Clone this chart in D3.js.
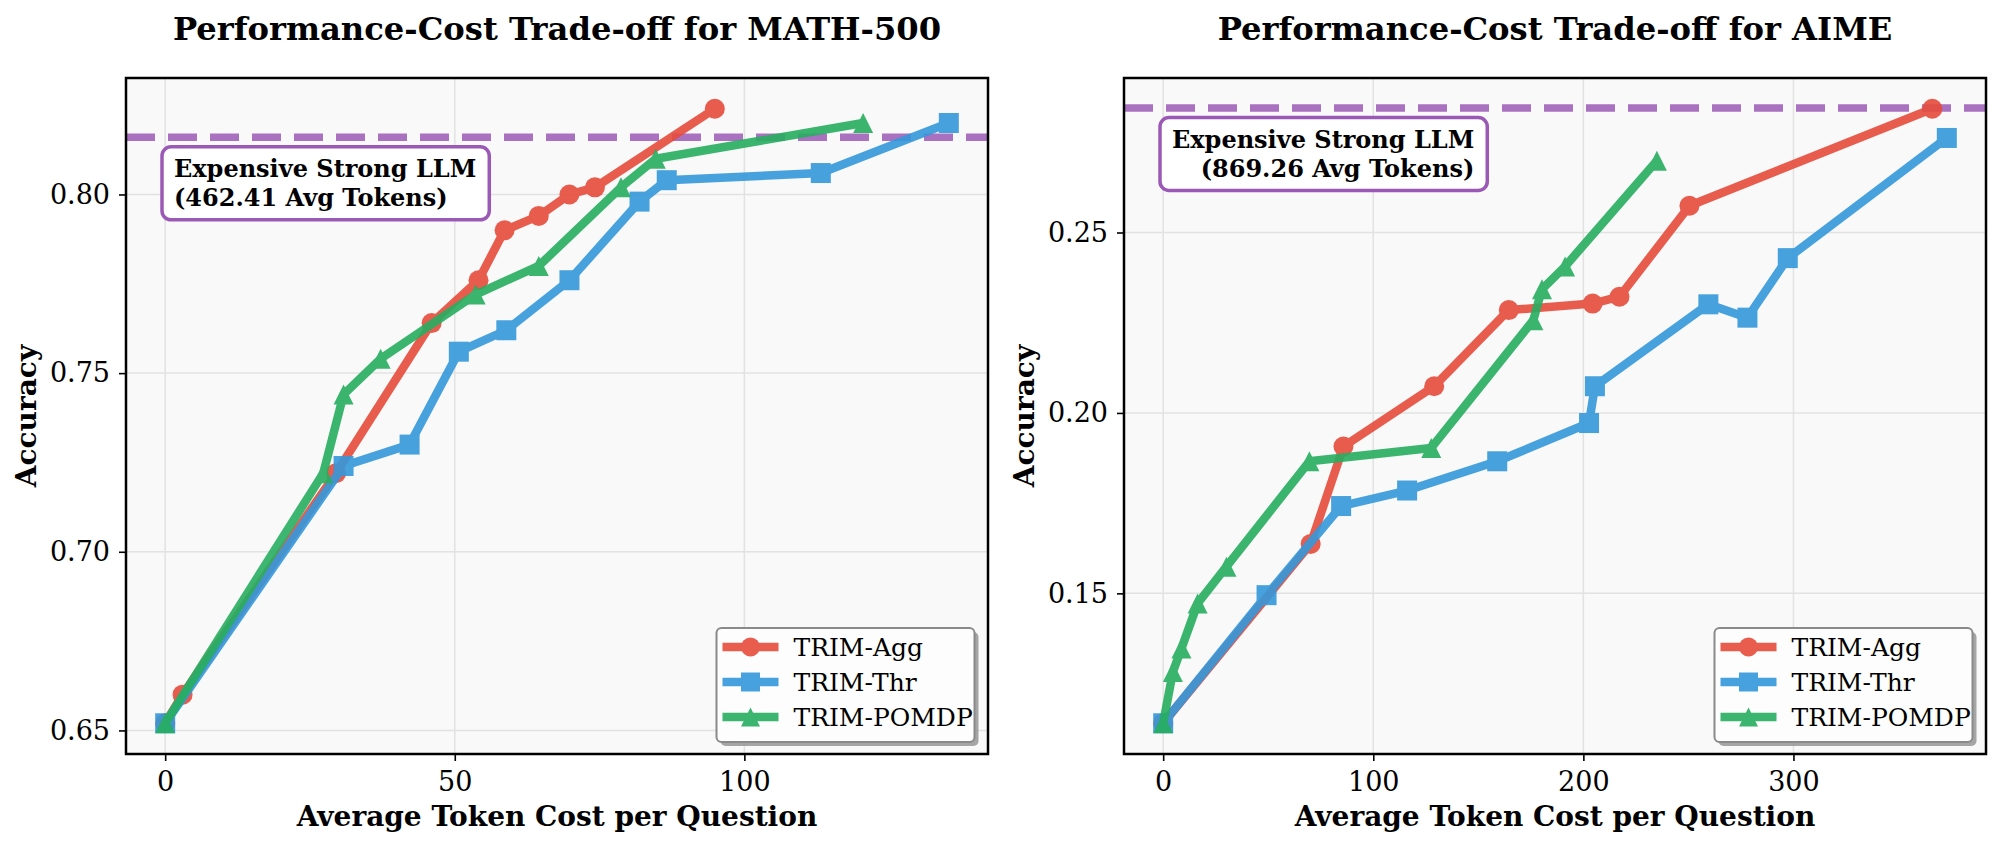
<!DOCTYPE html>
<html>
<head>
<meta charset="utf-8">
<script src="https://cdn.jsdelivr.net/npm/d3@7"></script>
<style>
  body { margin: 0; background: #fff; }
  text { font-family: "DejaVu Serif", serif; }
</style>
</head>
<body>
<div id="chart"></div>
<script>
// MATH-500 panel values
var mathAggX = [0, 3, 29.5, 46.0, 54.1, 58.6, 64.5, 69.8, 74.2, 94.9];
var mathAggY = [0.652, 0.660, 0.722, 0.764, 0.776, 0.790, 0.794, 0.800, 0.802, 0.824];
var mathThrX = [0, 30.8, 42.2, 50.7, 58.9, 69.8, 81.9, 86.6, 113.2, 135.3];
var mathThrY = [0.652, 0.724, 0.730, 0.756, 0.762, 0.776, 0.798, 0.804, 0.806, 0.820];
var mathPomdpX = [0, 27.3, 30.8, 37.2, 53.6, 64.5, 78.7, 84.7, 120.5];
var mathPomdpY = [0.652, 0.722, 0.744, 0.754, 0.772, 0.780, 0.802, 0.810, 0.820];
var mathStrongAcc = 0.816;
var mathStrongTokens = "462.41";
var mathXTicks = [0, 50, 100];
var mathYTicks = [0.65, 0.70, 0.75, 0.80];

// AIME panel values
var aimeAggX = [0, 70.2, 85.8, 129.0, 164.5, 204.4, 217.2, 250.5, 366.1];
var aimeAggY = [0.114, 0.1637, 0.1907, 0.2074, 0.2285, 0.2303, 0.2322, 0.2574, 0.2843];
var aimeThrX = [0, 49.2, 84.7, 116.1, 159.0, 202.7, 205.5, 259.5, 278.1, 297.3, 373.0];
var aimeThrY = [0.114, 0.1495, 0.1742, 0.1785, 0.1866, 0.1972, 0.2074, 0.2301, 0.2264, 0.2429, 0.2762];
var aimePomdpX = [0, 4.6, 8.7, 16.4, 30.1, 69.6, 127.6, 176.2, 180.3, 191.3, 235.0];
var aimePomdpY = [0.114, 0.1282, 0.1347, 0.1472, 0.1574, 0.1866, 0.1903, 0.2257, 0.2343, 0.2406, 0.2699];
var aimeStrongAcc = 0.2845;
var aimeStrongTokens = "869.26";
var aimeXTicks = [0, 100, 200, 300];
var aimeYTicks = [0.15, 0.20, 0.25];

var seriesNames = ["TRIM-Agg", "TRIM-Thr", "TRIM-POMDP"];
var seriesColors = ["#e74c3c", "#3498db", "#27ae60"];
var seriesMarkers = ["circle", "square", "triangle"];
var strongColor = "#9b59b6";

var svgWidth = 2000;
var svgHeight = 845;

var svg = d3.select("#chart")
  .append("svg")
  .attr("width", svgWidth)
  .attr("height", svgHeight);

var plotTop = 78;
var plotBottom = 754;
var plotW = 862;

function markerPath(type, s) {
  if (type === "circle") {
    return "M" + (-s) + ",0A" + s + "," + s + " 0 1,0 " + s + ",0A" + s + "," + s + " 0 1,0 " + (-s) + ",0Z";
  } else if (type === "square") {
    return "M" + (-s) + "," + (-s) + "H" + s + "V" + s + "H" + (-s) + "Z";
  }
  return "M0," + (-s) + "L" + s + "," + s + "L" + (-s) + "," + s + "Z";
}

function padded(vals) {
  var lo = d3.min(vals), hi = d3.max(vals);
  var p = (hi - lo) * 0.05;
  return [lo - p, hi + p];
}

function drawPanel(left, cfg) {
  var g = svg.append("g");
  var right = left + plotW;

  var allX = cfg.xs[0].concat(cfg.xs[1], cfg.xs[2]);
  var allY = cfg.ys[0].concat(cfg.ys[1], cfg.ys[2]);

  var x = d3.scaleLinear().domain(padded(allX)).range([left, right]);
  var y = d3.scaleLinear().domain(padded(allY)).range([plotBottom, plotTop]);

  // plot background
  g.append("rect")
    .attr("x", left).attr("y", plotTop)
    .attr("width", plotW).attr("height", plotBottom - plotTop)
    .attr("fill", "#f9f9f9");

  // grid
  g.selectAll(".vgrid").data(cfg.xTicks).enter().append("line")
    .attr("x1", d => x(d)).attr("x2", d => x(d))
    .attr("y1", plotTop).attr("y2", plotBottom)
    .attr("stroke", "#e2e2e2").attr("stroke-width", 1.5);
  g.selectAll(".hgrid").data(cfg.yTicks).enter().append("line")
    .attr("x1", left).attr("x2", right)
    .attr("y1", d => y(d)).attr("y2", d => y(d))
    .attr("stroke", "#e2e2e2").attr("stroke-width", 1.5);

  // strong LLM reference line
  g.append("line")
    .attr("x1", left).attr("x2", right)
    .attr("y1", y(cfg.strong)).attr("y2", y(cfg.strong))
    .attr("stroke", strongColor).attr("stroke-opacity", 0.85)
    .attr("stroke-width", 7.5)
    .attr("stroke-dasharray", "29,13");

  var clip = "clip" + left;
  svg.append("clipPath").attr("id", clip).append("rect")
    .attr("x", left).attr("y", plotTop)
    .attr("width", plotW).attr("height", plotBottom - plotTop);

  var lineGen = d3.line().x(d => x(d[0])).y(d => y(d[1]));

  // series lines + markers
  for (var i = 0; i < 3; i++) {
    var pts = d3.zip(cfg.xs[i], cfg.ys[i]);
    var sg = g.append("g").attr("clip-path", "url(#" + clip + ")").attr("opacity", 0.9);
    sg.append("path")
      .datum(pts)
      .attr("d", lineGen)
      .attr("fill", "none")
      .attr("stroke", seriesColors[i])
      .attr("stroke-width", 8.5)
      .attr("stroke-linejoin", "round");
    sg.selectAll(".m").data(pts).enter().append("path")
      .attr("transform", d => `translate(${x(d[0])},${y(d[1])})`)
      .attr("d", markerPath(seriesMarkers[i], 10))
      .attr("fill", seriesColors[i]);
  }

  // frame
  g.append("rect")
    .attr("x", left).attr("y", plotTop)
    .attr("width", plotW).attr("height", plotBottom - plotTop)
    .attr("fill", "none").attr("stroke", "#000").attr("stroke-width", 2.5);

  // axes
  var xAxis = g.append("g")
    .attr("transform", `translate(0, ${plotBottom})`)
    .call(d3.axisBottom(x).tickValues(cfg.xTicks).tickSize(7).tickPadding(11).tickFormat(d3.format("d")));
  var yAxis = g.append("g")
    .attr("transform", `translate(${left}, 0)`)
    .call(d3.axisLeft(y).tickValues(cfg.yTicks).tickSize(7).tickPadding(9).tickFormat(d3.format(".2f")));
  [xAxis, yAxis].forEach(function(a) {
    a.select(".domain").remove();
    a.selectAll("line").attr("stroke", "#000").attr("stroke-width", 1.6);
    a.selectAll("text").attr("font-size", 27).attr("fill", "#000")
      .attr("font-family", "DejaVu Serif");
  });

  // titles and labels
  g.append("text")
    .attr("x", (left + right) / 2).attr("y", 40)
    .attr("text-anchor", "middle")
    .attr("font-size", 32.2).attr("font-weight", "bold")
    .text(cfg.title);
  g.append("text")
    .attr("x", (left + right) / 2).attr("y", 826)
    .attr("text-anchor", "middle")
    .attr("font-size", 28).attr("font-weight", "bold")
    .text("Average Token Cost per Question");
  g.append("text")
    .attr("transform", `translate(${left - 90}, ${(plotTop + plotBottom) / 2}) rotate(-90)`)
    .attr("text-anchor", "middle")
    .attr("font-size", 28).attr("font-weight", "bold")
    .text("Accuracy");

  // annotation box
  var boxTop = y(cfg.strong) + 9.5;
  var ann = g.append("g");
  var annBox = ann.append("rect");
  var lines = ["Expensive Strong LLM", "(" + cfg.tokens + " Avg Tokens)"];
  var txt = ann.selectAll("text").data(lines).enter().append("text")
    .attr("y", (d, k) => boxTop + 30 + k * 29)
    .attr("font-size", 24).attr("font-weight", "bold")
    .text(d => d);
  var widths = [];
  txt.each(function() { widths.push(this.getComputedTextLength()); });
  var tw = d3.max(widths);
  var boxLeft = left + 36;
  if (cfg.alignRight) {
    txt.attr("text-anchor", "end").attr("x", boxLeft + 12 + tw);
  } else {
    txt.attr("x", boxLeft + 12);
  }
  annBox.attr("x", boxLeft).attr("y", boxTop)
    .attr("width", tw + 25).attr("height", 73)
    .attr("rx", 9)
    .attr("fill", "#fff").attr("stroke", strongColor).attr("stroke-width", 3.5);

  // legend
  var lgW = 258, lgH = 114;
  var lgX = right - 13.5 - lgW, lgY = plotBottom - 12 - lgH;
  var lg = g.append("g");
  lg.append("rect")
    .attr("x", lgX + 4).attr("y", lgY + 4)
    .attr("width", lgW).attr("height", lgH).attr("rx", 5)
    .attr("fill", "#888").attr("opacity", 0.75);
  lg.append("rect")
    .attr("x", lgX).attr("y", lgY)
    .attr("width", lgW).attr("height", lgH).attr("rx", 5)
    .attr("fill", "#fdfdfd").attr("stroke", "#8a8a8a").attr("stroke-width", 2);
  seriesNames.forEach(function(name, k) {
    var cy = lgY + 19 + k * 35;
    var row = lg.append("g").attr("opacity", 0.9);
    row.append("line")
      .attr("x1", lgX + 6).attr("x2", lgX + 62)
      .attr("y1", cy).attr("y2", cy)
      .attr("stroke", seriesColors[k]).attr("stroke-width", 8.5);
    row.append("path")
      .attr("transform", `translate(${lgX + 34},${cy})`)
      .attr("d", markerPath(seriesMarkers[k], 9.5))
      .attr("fill", seriesColors[k]);
    lg.append("text")
      .attr("x", lgX + 77).attr("y", cy + 8.5)
      .attr("font-size", 25)
      .text(name);
  });
}

drawPanel(126, {
  title: "Performance-Cost Trade-off for MATH-500",
  xs: [mathAggX, mathThrX, mathPomdpX],
  ys: [mathAggY, mathThrY, mathPomdpY],
  strong: mathStrongAcc,
  tokens: mathStrongTokens,
  xTicks: mathXTicks,
  yTicks: mathYTicks,
  alignRight: false
});

drawPanel(1124, {
  title: "Performance-Cost Trade-off for AIME",
  xs: [aimeAggX, aimeThrX, aimePomdpX],
  ys: [aimeAggY, aimeThrY, aimePomdpY],
  strong: aimeStrongAcc,
  tokens: aimeStrongTokens,
  xTicks: aimeXTicks,
  yTicks: aimeYTicks,
  alignRight: true
});
</script>
</body>
</html>
